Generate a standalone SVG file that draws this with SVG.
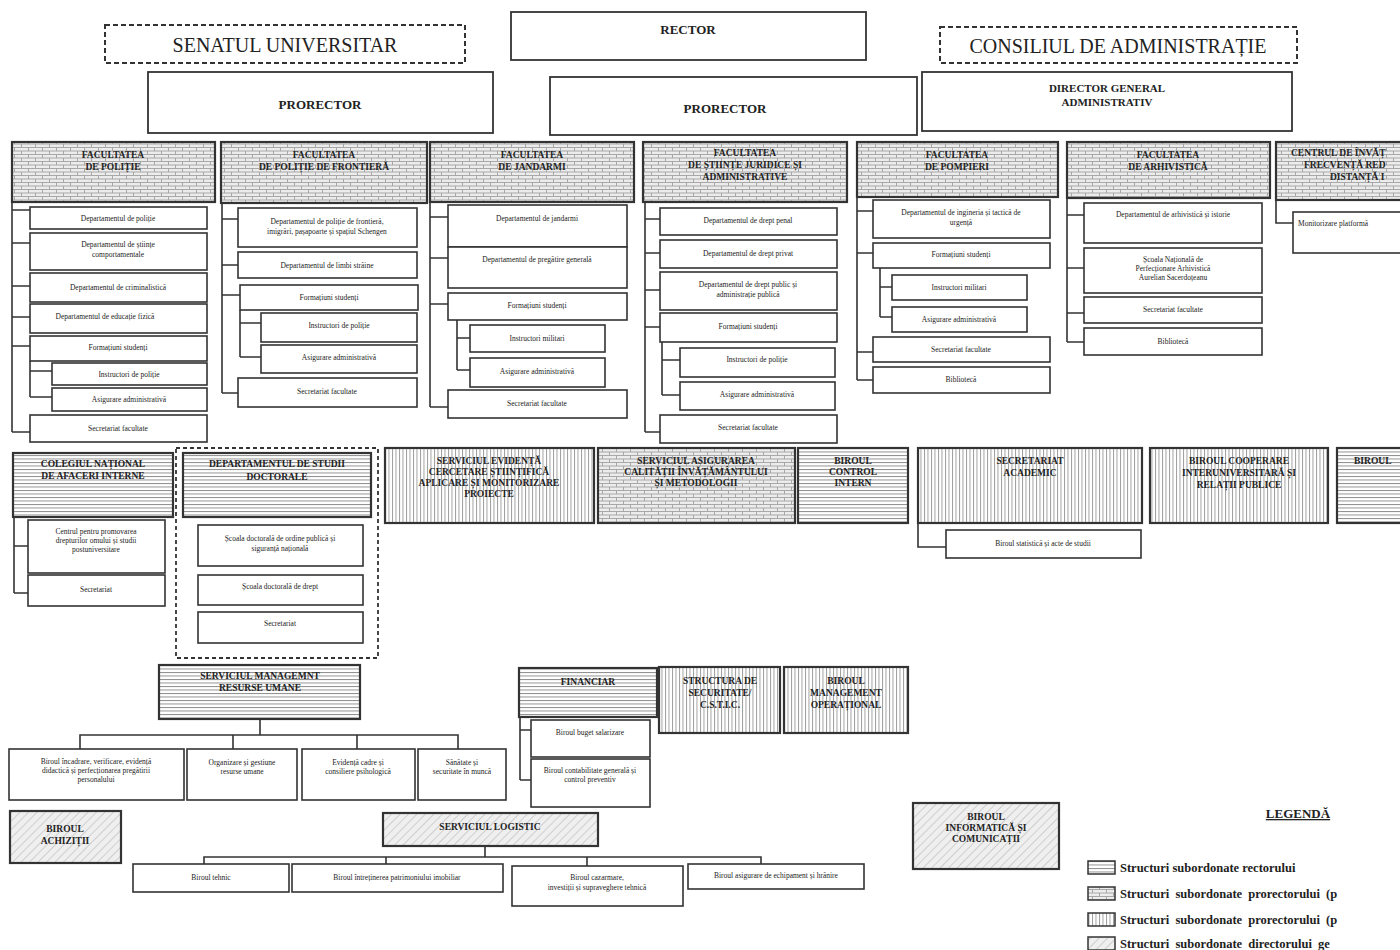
<svg xmlns="http://www.w3.org/2000/svg" width="1400" height="950" viewBox="0 0 1400 950">
<defs>
<pattern id="hl" width="4" height="3.5" patternUnits="userSpaceOnUse"><rect width="4" height="3.5" fill="#fff"/><line x1="0" y1="0.5" x2="4" y2="0.5" stroke="#858585" stroke-width="0.9"/></pattern>
<pattern id="vl" width="3.5" height="4" patternUnits="userSpaceOnUse"><rect width="3.5" height="4" fill="#fff"/><line x1="0.5" y1="0" x2="0.5" y2="4" stroke="#959595" stroke-width="0.9"/></pattern>
<pattern id="brick" width="14" height="7" patternUnits="userSpaceOnUse"><rect width="14" height="7" fill="#ececec"/><path d="M0,0.5H14M0,4H14M0.5,0.5V4M7.5,4V7" stroke="#a0a0a0" stroke-width="0.9" fill="none"/></pattern>
<pattern id="diag" width="6" height="6" patternUnits="userSpaceOnUse" patternTransform="rotate(45)"><rect width="6" height="6" fill="#efefef"/><line x1="0" y1="0" x2="0" y2="6" stroke="#adadad" stroke-width="1"/></pattern>
<style>
.top{fill:#fff;stroke:#333;stroke-width:1.8}
.dash{fill:#fff;stroke:#333;stroke-width:2;stroke-dasharray:5 3}
.hb{stroke:#333;stroke-width:2.2}
.cb{fill:#fff;stroke:#333;stroke-width:1.6}
.ln{fill:none;stroke:#333;stroke-width:1.6}
text{font-family:"Liberation Serif","Times New Roman",serif;fill:#222;text-anchor:middle}
.big{font-size:20px}
.tt{font-size:13px;font-weight:bold}
.ht{font-size:9.5px;font-weight:bold}
.ct{font-size:7.5px}
.lg{font-size:12.5px;font-weight:bold;text-anchor:start}
.st{text-anchor:start}
</style>
</defs>

<!-- top level -->
<g id="senat"><rect class="dash" x="105" y="25" width="360" height="38"/><text class="big" x="285" y="52">SENATUL UNIVERSITAR</text></g>
<g id="rector"><rect class="top" x="511" y="12" width="355" height="48"/><text class="tt" x="688" y="34">RECTOR</text></g>
<g id="consiliu"><rect class="dash" x="940" y="27" width="357" height="36"/><text class="big" x="1118" y="53">CONSILIUL DE ADMINISTRAȚIE</text></g>
<g id="prorector1"><rect class="top" x="148" y="72" width="345" height="61"/><text class="tt" x="320" y="109">PRORECTOR</text></g>
<g id="prorector2"><rect class="top" x="550" y="77" width="367" height="58"/><text class="tt" x="725" y="113">PRORECTOR</text></g>
<g id="director"><rect class="top" x="922" y="72" width="370" height="59"/><text class="ht" x="1107" y="92" style="font-size:11px">DIRECTOR GENERAL</text><text class="ht" x="1107" y="106" style="font-size:11px">ADMINISTRATIV</text></g>

<!-- connectors -->
<g id="connectors">
<path class="ln" d="M12,202V432M12,210H30M12,243H30M12,286H30M12,317H30M12,346H30M12,432H30M30,361V397M30,371H52M30,397H52"/>
<path class="ln" d="M222,203V393M222,219H238M222,265H238M222,295H240M222,393H238M240,310V357M240,323H261M240,357H261"/>
<path class="ln" d="M430,202V407M430,217H448M430,258H448M430,304H448M430,407H448M457,320V370M457,338H470M457,370H470"/>
<path class="ln" d="M645,202V432M645,219H660M645,253H660M645,290H660M645,327H660M645,432H660M662,342V395M662,360H680M662,395H680"/>
<path class="ln" d="M857,197V380M857,211H873M857,253H873M857,352H873M857,380H873M880,268V317M880,287H892M880,317H892"/>
<path class="ln" d="M1067,198V342M1067,215H1084M1067,268H1084M1067,313H1084M1067,342H1084"/>
<path class="ln" d="M1276,200V223H1293"/>
<path class="ln" d="M14,517V593M14,546H28M14,593H28"/>
<path class="ln" d="M183,517V630M183,537H198M183,587H198M183,630H198"/>
<path class="ln" d="M918,523V547H946"/>
<path class="ln" d="M260,719V735M80,749V735H458V749M233,735V749M357,735V749"/>
<path class="ln" d="M520,717V780M520,730H531M520,780H531"/>
<path class="ln" d="M485,846V857M204,864V857H761V864M386,857V864M587,857V866"/>
</g>

<!-- Facultatea de Politie -->
<g id="fac-politie">
<rect class="hb" x="12" y="142" width="203" height="60" fill="url(#brick)"/>
<text class="ht" x="113" y="158">FACULTATEA</text><text class="ht" x="113" y="170">DE POLIȚIE</text>
<rect class="cb" x="30" y="207" width="177" height="22"/><text class="ct" x="118" y="221">Departamentul de poliție</text>
<rect class="cb" x="30" y="233" width="177" height="37"/><text class="ct" x="118" y="247">Departamentul de științe</text><text class="ct" x="118" y="257">comportamentale</text>
<rect class="cb" x="30" y="273" width="177" height="29"/><text class="ct" x="118" y="290">Departamentul de criminalistică</text>
<rect class="cb" x="30" y="304" width="177" height="29"/><text class="ct" x="105" y="319">Departamentul de educație fizică</text>
<rect class="cb" x="30" y="336" width="177" height="25"/><text class="ct" x="118" y="350">Formațiuni studenți</text>
<rect class="cb" x="52" y="363" width="155" height="22"/><text class="ct" x="129" y="377">Instructori de poliție</text>
<rect class="cb" x="52" y="388" width="155" height="23"/><text class="ct" x="129" y="402">Asigurare administrativă</text>
<rect class="cb" x="30" y="415" width="177" height="27"/><text class="ct" x="118" y="431">Secretariat facultate</text>
</g>

<!-- Facultatea de Politie de Frontiera -->
<g id="fac-frontiera">
<rect class="hb" x="221" y="142" width="206" height="61" fill="url(#brick)"/>
<text class="ht" x="324" y="158">FACULTATEA</text><text class="ht" x="324" y="170">DE POLIȚIE DE FRONTIERĂ</text>
<rect class="cb" x="238" y="208" width="179" height="39"/><text class="ct" x="327" y="224">Departamentul de poliție de frontieră,</text><text class="ct" x="327" y="234">imigrări, pașapoarte și spațiul Schengen</text>
<rect class="cb" x="238" y="252" width="179" height="26"/><text class="ct" x="327" y="268">Departamentul de limbi străine</text>
<rect class="cb" x="240" y="285" width="178" height="25"/><text class="ct" x="329" y="300">Formațiuni studenți</text>
<rect class="cb" x="261" y="313" width="156" height="29"/><text class="ct" x="339" y="328">Instructori de poliție</text>
<rect class="cb" x="261" y="345" width="156" height="28"/><text class="ct" x="339" y="360">Asigurare administrativă</text>
<rect class="cb" x="238" y="378" width="179" height="29"/><text class="ct" x="327" y="394">Secretariat facultate</text>
</g>

<!-- Facultatea de Jandarmi -->
<g id="fac-jandarmi">
<rect class="hb" x="430" y="142" width="204" height="60" fill="url(#brick)"/>
<text class="ht" x="532" y="158">FACULTATEA</text><text class="ht" x="532" y="170">DE JANDARMI</text>
<rect class="cb" x="448" y="205" width="179" height="42"/><text class="ct" x="537" y="221">Departamentul de jandarmi</text>
<rect class="cb" x="448" y="247" width="179" height="41"/><text class="ct" x="537" y="262">Departamentul de pregătire generală</text>
<rect class="cb" x="448" y="293" width="179" height="27"/><text class="ct" x="537" y="308">Formațiuni studenți</text>
<rect class="cb" x="470" y="325" width="135" height="27"/><text class="ct" x="537" y="341">Instructori militari</text>
<rect class="cb" x="470" y="358" width="135" height="29"/><text class="ct" x="537" y="374">Asigurare administrativă</text>
<rect class="cb" x="448" y="390" width="179" height="28"/><text class="ct" x="537" y="406">Secretariat facultate</text>
</g>

<!-- Facultatea de Stiinte Juridice si Administrative -->
<g id="fac-juridice">
<rect class="hb" x="643" y="142" width="204" height="60" fill="url(#brick)"/>
<text class="ht" x="745" y="156">FACULTATEA</text><text class="ht" x="745" y="168">DE ȘTIINȚE JURIDICE ȘI</text><text class="ht" x="745" y="180">ADMINISTRATIVE</text>
<rect class="cb" x="660" y="208" width="177" height="27"/><text class="ct" x="748" y="223">Departamentul de drept penal</text>
<rect class="cb" x="660" y="240" width="177" height="28"/><text class="ct" x="748" y="256">Departamentul de drept privat</text>
<rect class="cb" x="660" y="272" width="177" height="38"/><text class="ct" x="748" y="287">Departamentul de drept public și</text><text class="ct" x="748" y="297">administrație publică</text>
<rect class="cb" x="660" y="313" width="177" height="29"/><text class="ct" x="748" y="329">Formațiuni studenți</text>
<rect class="cb" x="680" y="348" width="155" height="29"/><text class="ct" x="757" y="362">Instructori de poliție</text>
<rect class="cb" x="680" y="382" width="155" height="28"/><text class="ct" x="757" y="397">Asigurare administrativă</text>
<rect class="cb" x="660" y="415" width="177" height="28"/><text class="ct" x="748" y="430">Secretariat facultate</text>
</g>

<!-- Facultatea de Pompieri -->
<g id="fac-pompieri">
<rect class="hb" x="857" y="142" width="201" height="55" fill="url(#brick)"/>
<text class="ht" x="957" y="158">FACULTATEA</text><text class="ht" x="957" y="170">DE POMPIERI</text>
<rect class="cb" x="873" y="200" width="177" height="38"/><text class="ct" x="961" y="215">Departamentul de ingineria și tactică de</text><text class="ct" x="961" y="225">urgență</text>
<rect class="cb" x="873" y="243" width="177" height="25"/><text class="ct" x="961" y="257">Formațiuni studenți</text>
<rect class="cb" x="892" y="275" width="135" height="25"/><text class="ct" x="959" y="290">Instructori militari</text>
<rect class="cb" x="892" y="307" width="135" height="25"/><text class="ct" x="959" y="322">Asigurare administrativă</text>
<rect class="cb" x="873" y="337" width="177" height="25"/><text class="ct" x="961" y="352">Secretariat facultate</text>
<rect class="cb" x="873" y="367" width="177" height="26"/><text class="ct" x="961" y="382">Bibliotecă</text>
</g>

<!-- Facultatea de Arhivistica -->
<g id="fac-arhivistica">
<rect class="hb" x="1067" y="142" width="203" height="56" fill="url(#brick)"/>
<text class="ht" x="1168" y="158">FACULTATEA</text><text class="ht" x="1168" y="170">DE ARHIVISTICĂ</text>
<rect class="cb" x="1084" y="203" width="178" height="40"/><text class="ct" x="1173" y="217">Departamentul de arhivistică și istorie</text>
<rect class="cb" x="1084" y="248" width="178" height="45"/><text class="ct" x="1173" y="262">Școala Națională de</text><text class="ct" x="1173" y="271">Perfecționare Arhivistică</text><text class="ct" x="1173" y="280">Aurelian Sacerdoțeanu</text>
<rect class="cb" x="1084" y="297" width="178" height="26"/><text class="ct" x="1173" y="312">Secretariat facultate</text>
<rect class="cb" x="1084" y="328" width="178" height="27"/><text class="ct" x="1173" y="344">Bibliotecă</text>
</g>

<!-- Centrul ID (cut at the right edge as in the picture) -->
<g id="centrul-id">
<rect class="hb" x="1276" y="142" width="180" height="58" fill="url(#brick)"/>
<text class="ht st" x="1291" y="156">CENTRUL DE ÎNVĂȚ</text><text class="ht st" x="1304" y="168">FRECVENȚĂ RED</text><text class="ht st" x="1330" y="180">DISTANȚĂ I</text>
<rect class="cb" x="1293" y="212" width="160" height="41"/><text class="ct st" x="1298" y="226">Monitorizare platformă</text>
</g>

<!-- Colegiul National -->
<g id="colegiul">
<rect class="hb" x="13" y="453" width="160" height="64" fill="url(#hl)"/>
<text class="ht" x="93" y="467">COLEGIUL NAȚIONAL</text><text class="ht" x="93" y="479">DE AFACERI INTERNE</text>
<rect class="cb" x="28" y="520" width="137" height="53"/><text class="ct" x="96" y="534">Centrul pentru promovarea</text><text class="ct" x="96" y="543">drepturilor omului și studii</text><text class="ct" x="96" y="552">postuniversitare</text>
<rect class="cb" x="28" y="575" width="137" height="31"/><text class="ct" x="96" y="592">Secretariat</text>
</g>

<!-- Departamentul de Studii Doctorale -->
<g id="studii-doctorale">
<rect class="dash" x="176" y="448" width="202" height="210" style="stroke-width:1.8;stroke-dasharray:4 3"/>
<rect class="hb" x="183" y="453" width="188" height="64" fill="url(#hl)"/>
<text class="ht" x="277" y="467">DEPARTAMENTUL DE STUDII</text><text class="ht" x="277" y="480">DOCTORALE</text>
<rect class="cb" x="198" y="525" width="165" height="41"/><text class="ct" x="280" y="541">Școala doctorală de ordine publică și</text><text class="ct" x="280" y="551">siguranță națională</text>
<rect class="cb" x="198" y="575" width="165" height="30"/><text class="ct" x="280" y="589">Școala doctorală de drept</text>
<rect class="cb" x="198" y="612" width="165" height="31"/><text class="ct" x="280" y="626">Secretariat</text>
</g>

<g id="serviciul-cercetare"><rect class="hb" x="385" y="448" width="209" height="75" fill="url(#vl)"/>
<text class="ht" x="489" y="464">SERVICIUL EVIDENȚĂ</text><text class="ht" x="489" y="475">CERCETARE ȘTIINȚIFICĂ</text><text class="ht" x="489" y="486">APLICARE ȘI MONITORIZARE</text><text class="ht" x="489" y="497">PROIECTE</text></g>
<g id="serviciul-calitate"><rect class="hb" x="598" y="448" width="197" height="75" fill="url(#brick)"/>
<text class="ht" x="696" y="464">SERVICIUL ASIGURAREA</text><text class="ht" x="696" y="475">CALITĂȚII ÎNVĂȚĂMÂNTULUI</text><text class="ht" x="696" y="486">ȘI METODOLOGII</text></g>
<g id="biroul-control"><rect class="hb" x="798" y="448" width="110" height="75" fill="url(#hl)"/>
<text class="ht" x="853" y="464">BIROUL</text><text class="ht" x="853" y="475">CONTROL</text><text class="ht" x="853" y="486">INTERN</text></g>
<g id="secretariat-academic"><rect class="hb" x="918" y="448" width="224" height="75" fill="url(#vl)"/>
<text class="ht" x="1030" y="464">SECRETARIAT</text><text class="ht" x="1030" y="476">ACADEMIC</text>
<rect class="cb" x="946" y="530" width="195" height="28"/><text class="ct" x="1043" y="546">Biroul statistică și acte de studii</text></g>
<g id="biroul-cooperare"><rect class="hb" x="1150" y="448" width="178" height="75" fill="url(#vl)"/>
<text class="ht" x="1239" y="464">BIROUL COOPERARE</text><text class="ht" x="1239" y="476">INTERUNIVERSITARĂ ȘI</text><text class="ht" x="1239" y="488">RELAȚII PUBLICE</text></g>
<g id="biroul-dreapta"><rect class="hb" x="1337" y="448" width="120" height="75" fill="url(#hl)"/>
<text class="ht st" x="1354" y="464">BIROUL</text></g>

<!-- SMRU -->
<g id="smru">
<rect class="hb" x="159" y="665" width="201" height="54" fill="url(#hl)"/>
<text class="ht" x="260" y="679">SERVICIUL MANAGEMNT</text><text class="ht" x="260" y="691">RESURSE UMANE</text>
<rect class="cb" x="9" y="749" width="175" height="51"/><text class="ct" x="96" y="764">Biroul încadrare, verificare, evidență</text><text class="ct" x="96" y="773">didactică și perfecționarea pregătirii</text><text class="ct" x="96" y="782">personalului</text>
<rect class="cb" x="187" y="749" width="110" height="51"/><text class="ct" x="242" y="765">Organizare și gestiune</text><text class="ct" x="242" y="774">resurse umane</text>
<rect class="cb" x="302" y="749" width="113" height="51"/><text class="ct" x="358" y="765">Evidență cadre și</text><text class="ct" x="358" y="774">consiliere psihologică</text>
<rect class="cb" x="418" y="749" width="88" height="51"/><text class="ct" x="462" y="765">Sănătate și</text><text class="ct" x="462" y="774">securitate în muncă</text>
</g>

<!-- Financiar -->
<g id="financiar">
<rect class="hb" x="519" y="668" width="138" height="49" fill="url(#hl)"/>
<text class="ht" x="588" y="685">FINANCIAR</text>
<rect class="cb" x="531" y="720" width="119" height="37"/><text class="ct" x="590" y="735">Biroul buget salarizare</text>
<rect class="cb" x="531" y="759" width="119" height="48"/><text class="ct" x="590" y="773">Biroul contabilitate generală și</text><text class="ct" x="590" y="782">control preventiv</text>
</g>
<g id="structura-securitate"><rect class="hb" x="659" y="667" width="121" height="66" fill="url(#vl)"/>
<text class="ht" x="720" y="684">STRUCTURA DE</text><text class="ht" x="720" y="696">SECURITATE/</text><text class="ht" x="720" y="708">C.S.T.I.C.</text></g>
<g id="biroul-management"><rect class="hb" x="784" y="667" width="124" height="66" fill="url(#vl)"/>
<text class="ht" x="846" y="684">BIROUL</text><text class="ht" x="846" y="696">MANAGEMENT</text><text class="ht" x="846" y="708">OPERAȚIONAL</text></g>

<g id="biroul-achizitii"><rect class="hb" x="10" y="811" width="111" height="52" fill="url(#diag)"/>
<text class="ht" x="65" y="832">BIROUL</text><text class="ht" x="65" y="844">ACHIZIȚII</text></g>

<g id="serviciul-logistic">
<rect class="hb" x="383" y="813" width="215" height="33" fill="url(#diag)"/>
<text class="ht" x="490" y="830">SERVICIUL LOGISTIC</text>
<rect class="cb" x="133" y="864" width="156" height="28"/><text class="ct" x="211" y="880">Biroul tehnic</text>
<rect class="cb" x="292" y="864" width="211" height="28"/><text class="ct" x="397" y="880">Biroul întreținerea patrimoniului imobiliar</text>
<rect class="cb" x="512" y="866" width="171" height="40"/><text class="ct" x="597" y="880">Biroul cazarmare,</text><text class="ct" x="597" y="890">investiții și supraveghere tehnică</text>
<rect class="cb" x="688" y="864" width="176" height="25"/><text class="ct" x="776" y="878">Biroul asigurare de echipament și hrănire</text>
</g>

<g id="biroul-informatica"><rect class="hb" x="913" y="803" width="146" height="66" fill="url(#diag)"/>
<text class="ht" x="986" y="820">BIROUL</text><text class="ht" x="986" y="831">INFORMATICĂ ȘI</text><text class="ht" x="986" y="842">COMUNICAȚII</text></g>

<!-- Legend (cut at the right edge as in the picture) -->
<g id="legenda">
<text x="1298" y="818" style="font-size:13px;font-weight:bold;text-decoration:underline">LEGENDĂ</text>
<rect x="1088" y="861" width="27" height="13" fill="url(#hl)" stroke="#333" stroke-width="1.5"/>
<text class="lg" x="1120" y="872">Structuri subordonate rectorului</text>
<rect x="1088" y="887" width="27" height="13" fill="url(#brick)" stroke="#333" stroke-width="1.5"/>
<text class="lg" x="1120" y="898" style="word-spacing:3px">Structuri subordonate prorectorului (p</text>
<rect x="1088" y="913" width="27" height="13" fill="url(#vl)" stroke="#333" stroke-width="1.5"/>
<text class="lg" x="1120" y="924" style="word-spacing:3px">Structuri subordonate prorectorului (p</text>
<rect x="1088" y="937" width="27" height="13" fill="url(#diag)" stroke="#333" stroke-width="1.5"/>
<text class="lg" x="1120" y="948" style="word-spacing:3px">Structuri subordonate directorului ge</text>
</g>
</svg>
